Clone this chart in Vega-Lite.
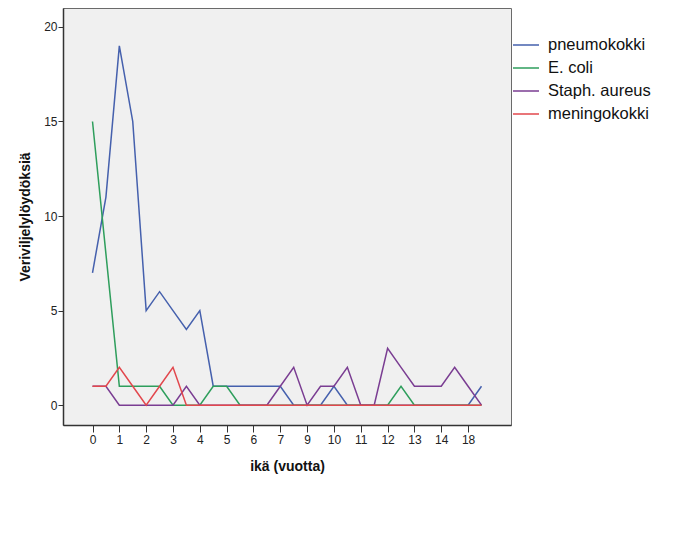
{
  "$schema": "https://vega.github.io/schema/vega-lite/v6.json",
  "autosize": {"type": "none"},
  "padding": {"left": 63, "top": 8, "right": 171, "bottom": 121},
  "width": 448,
  "height": 417,
  "background": "white",
  "config": {
    "font": "Liberation Sans",
    "view": {"fill": "#f0f0f0", "stroke": "#6a6a6a", "strokeWidth": 1}
  },
  "datasets": {
    "d": [
      {"ika": "0", "laji": "pneumokokki", "n": 7}, {"ika": "0,5", "laji": "pneumokokki", "n": 11}, {"ika": "1", "laji": "pneumokokki", "n": 19}, {"ika": "1,5", "laji": "pneumokokki", "n": 15}, {"ika": "2", "laji": "pneumokokki", "n": 5}, {"ika": "2,5", "laji": "pneumokokki", "n": 6}, {"ika": "3", "laji": "pneumokokki", "n": 5}, {"ika": "3,5", "laji": "pneumokokki", "n": 4}, {"ika": "4", "laji": "pneumokokki", "n": 5}, {"ika": "4,5", "laji": "pneumokokki", "n": 1}, {"ika": "5", "laji": "pneumokokki", "n": 1}, {"ika": "5,5", "laji": "pneumokokki", "n": 1}, {"ika": "6", "laji": "pneumokokki", "n": 1}, {"ika": "6,5", "laji": "pneumokokki", "n": 1}, {"ika": "7", "laji": "pneumokokki", "n": 1}, {"ika": "8", "laji": "pneumokokki", "n": 0}, {"ika": "9", "laji": "pneumokokki", "n": 0}, {"ika": "9,5", "laji": "pneumokokki", "n": 0}, {"ika": "10", "laji": "pneumokokki", "n": 1}, {"ika": "10,5", "laji": "pneumokokki", "n": 0}, {"ika": "11", "laji": "pneumokokki", "n": 0}, {"ika": "11,5", "laji": "pneumokokki", "n": 0}, {"ika": "12", "laji": "pneumokokki", "n": 0}, {"ika": "12,5", "laji": "pneumokokki", "n": 0}, {"ika": "13", "laji": "pneumokokki", "n": 0}, {"ika": "13,5", "laji": "pneumokokki", "n": 0}, {"ika": "14", "laji": "pneumokokki", "n": 0}, {"ika": "15", "laji": "pneumokokki", "n": 0}, {"ika": "18", "laji": "pneumokokki", "n": 0}, {"ika": "19", "laji": "pneumokokki", "n": 1},
      {"ika": "0", "laji": "E. coli", "n": 15}, {"ika": "0,5", "laji": "E. coli", "n": 8}, {"ika": "1", "laji": "E. coli", "n": 1}, {"ika": "1,5", "laji": "E. coli", "n": 1}, {"ika": "2", "laji": "E. coli", "n": 1}, {"ika": "2,5", "laji": "E. coli", "n": 1}, {"ika": "3", "laji": "E. coli", "n": 0}, {"ika": "3,5", "laji": "E. coli", "n": 0}, {"ika": "4", "laji": "E. coli", "n": 0}, {"ika": "4,5", "laji": "E. coli", "n": 1}, {"ika": "5", "laji": "E. coli", "n": 1}, {"ika": "5,5", "laji": "E. coli", "n": 0}, {"ika": "6", "laji": "E. coli", "n": 0}, {"ika": "6,5", "laji": "E. coli", "n": 0}, {"ika": "7", "laji": "E. coli", "n": 0}, {"ika": "8", "laji": "E. coli", "n": 0}, {"ika": "9", "laji": "E. coli", "n": 0}, {"ika": "9,5", "laji": "E. coli", "n": 0}, {"ika": "10", "laji": "E. coli", "n": 0}, {"ika": "10,5", "laji": "E. coli", "n": 0}, {"ika": "11", "laji": "E. coli", "n": 0}, {"ika": "11,5", "laji": "E. coli", "n": 0}, {"ika": "12", "laji": "E. coli", "n": 0}, {"ika": "12,5", "laji": "E. coli", "n": 1}, {"ika": "13", "laji": "E. coli", "n": 0}, {"ika": "13,5", "laji": "E. coli", "n": 0}, {"ika": "14", "laji": "E. coli", "n": 0}, {"ika": "15", "laji": "E. coli", "n": 0}, {"ika": "18", "laji": "E. coli", "n": 0}, {"ika": "19", "laji": "E. coli", "n": 0},
      {"ika": "0", "laji": "Staph. aureus", "n": 1}, {"ika": "0,5", "laji": "Staph. aureus", "n": 1}, {"ika": "1", "laji": "Staph. aureus", "n": 0}, {"ika": "1,5", "laji": "Staph. aureus", "n": 0}, {"ika": "2", "laji": "Staph. aureus", "n": 0}, {"ika": "2,5", "laji": "Staph. aureus", "n": 0}, {"ika": "3", "laji": "Staph. aureus", "n": 0}, {"ika": "3,5", "laji": "Staph. aureus", "n": 1}, {"ika": "4", "laji": "Staph. aureus", "n": 0}, {"ika": "4,5", "laji": "Staph. aureus", "n": 0}, {"ika": "5", "laji": "Staph. aureus", "n": 0}, {"ika": "5,5", "laji": "Staph. aureus", "n": 0}, {"ika": "6", "laji": "Staph. aureus", "n": 0}, {"ika": "6,5", "laji": "Staph. aureus", "n": 0}, {"ika": "7", "laji": "Staph. aureus", "n": 1}, {"ika": "8", "laji": "Staph. aureus", "n": 2}, {"ika": "9", "laji": "Staph. aureus", "n": 0}, {"ika": "9,5", "laji": "Staph. aureus", "n": 1}, {"ika": "10", "laji": "Staph. aureus", "n": 1}, {"ika": "10,5", "laji": "Staph. aureus", "n": 2}, {"ika": "11", "laji": "Staph. aureus", "n": 0}, {"ika": "11,5", "laji": "Staph. aureus", "n": 0}, {"ika": "12", "laji": "Staph. aureus", "n": 3}, {"ika": "12,5", "laji": "Staph. aureus", "n": 2}, {"ika": "13", "laji": "Staph. aureus", "n": 1}, {"ika": "13,5", "laji": "Staph. aureus", "n": 1}, {"ika": "14", "laji": "Staph. aureus", "n": 1}, {"ika": "15", "laji": "Staph. aureus", "n": 2}, {"ika": "18", "laji": "Staph. aureus", "n": 1}, {"ika": "19", "laji": "Staph. aureus", "n": 0},
      {"ika": "0", "laji": "meningokokki", "n": 1}, {"ika": "0,5", "laji": "meningokokki", "n": 1}, {"ika": "1", "laji": "meningokokki", "n": 2}, {"ika": "1,5", "laji": "meningokokki", "n": 1}, {"ika": "2", "laji": "meningokokki", "n": 0}, {"ika": "2,5", "laji": "meningokokki", "n": 1}, {"ika": "3", "laji": "meningokokki", "n": 2}, {"ika": "3,5", "laji": "meningokokki", "n": 0}, {"ika": "4", "laji": "meningokokki", "n": 0}, {"ika": "4,5", "laji": "meningokokki", "n": 0}, {"ika": "5", "laji": "meningokokki", "n": 0}, {"ika": "5,5", "laji": "meningokokki", "n": 0}, {"ika": "6", "laji": "meningokokki", "n": 0}, {"ika": "6,5", "laji": "meningokokki", "n": 0}, {"ika": "7", "laji": "meningokokki", "n": 0}, {"ika": "8", "laji": "meningokokki", "n": 0}, {"ika": "9", "laji": "meningokokki", "n": 0}, {"ika": "9,5", "laji": "meningokokki", "n": 0}, {"ika": "10", "laji": "meningokokki", "n": 0}, {"ika": "10,5", "laji": "meningokokki", "n": 0}, {"ika": "11", "laji": "meningokokki", "n": 0}, {"ika": "11,5", "laji": "meningokokki", "n": 0}, {"ika": "12", "laji": "meningokokki", "n": 0}, {"ika": "12,5", "laji": "meningokokki", "n": 0}, {"ika": "13", "laji": "meningokokki", "n": 0}, {"ika": "13,5", "laji": "meningokokki", "n": 0}, {"ika": "14", "laji": "meningokokki", "n": 0}, {"ika": "15", "laji": "meningokokki", "n": 0}, {"ika": "18", "laji": "meningokokki", "n": 0}, {"ika": "19", "laji": "meningokokki", "n": 0}
    ]
  },
  "data": {"name": "d"},
  "mark": {"type": "line", "strokeWidth": 1.5, "interpolate": "linear"},
  "encoding": {
    "x": {
      "field": "ika",
      "type": "ordinal",
      "sort": null,
      "scale": {
        "type": "point",
        "padding": 0.2,
        "domain": [" ", "  ", "0", "0,5", "1", "1,5", "2", "2,5", "3", "3,5", "4", "4,5", "5", "5,5", "6", "6,5", "7", "8", "9", "9,5", "10", "10,5", "11", "11,5", "12", "12,5", "13", "13,5", "14", "15", "18", "19", "   ", "    "]
      },
      "axis": {
        "title": "ikä (vuotta)",
        "values": ["0", "1", "2", "3", "4", "5", "6", "7", "9", "10", "11", "12", "13", "14", "18"],
        "labelAngle": 0,
        "labelFontSize": 12,
        "labelColor": "#222",
        "labelPadding": 2,
        "tickSize": 7,
        "tickColor": "#333",
        "domainColor": "#333",
        "domainWidth": 1.5,
        "titleFontSize": 14,
        "titleFontWeight": "bold",
        "titleColor": "#111",
        "titlePadding": 14,
        "grid": false
      }
    },
    "y": {
      "field": "n",
      "type": "quantitative",
      "scale": {"domain": [-1.05, 21], "nice": false, "zero": false},
      "axis": {
        "title": "Veriviljelylöydöksiä",
        "values": [0, 5, 10, 15, 20],
        "labelFontSize": 12,
        "labelColor": "#222",
        "labelPadding": 1,
        "tickSize": 5,
        "tickColor": "#333",
        "domainColor": "#333",
        "domainWidth": 1.5,
        "titleFontSize": 14,
        "titleFontWeight": "bold",
        "titleColor": "#111",
        "titlePadding": 11,
        "grid": false
      }
    },
    "color": {
      "field": "laji",
      "type": "nominal",
      "sort": ["pneumokokki", "E. coli", "Staph. aureus", "meningokokki"],
      "scale": {
        "domain": ["pneumokokki", "E. coli", "Staph. aureus", "meningokokki"],
        "range": ["#4560ad", "#2e9e5c", "#7a3d92", "#e2474d"]
      },
      "legend": {
        "title": null,
        "orient": "none",
        "legendX": 449,
        "legendY": 23,
        "padding": 0,
        "symbolType": "stroke",
        "symbolSize": 676,
        "symbolStrokeWidth": 1.5,
        "labelFontSize": 16.5,
        "labelColor": "#111",
        "labelOffset": 8,
        "rowPadding": -2.8
      }
    },
    "order": {"field": "laji"}
  }
}
